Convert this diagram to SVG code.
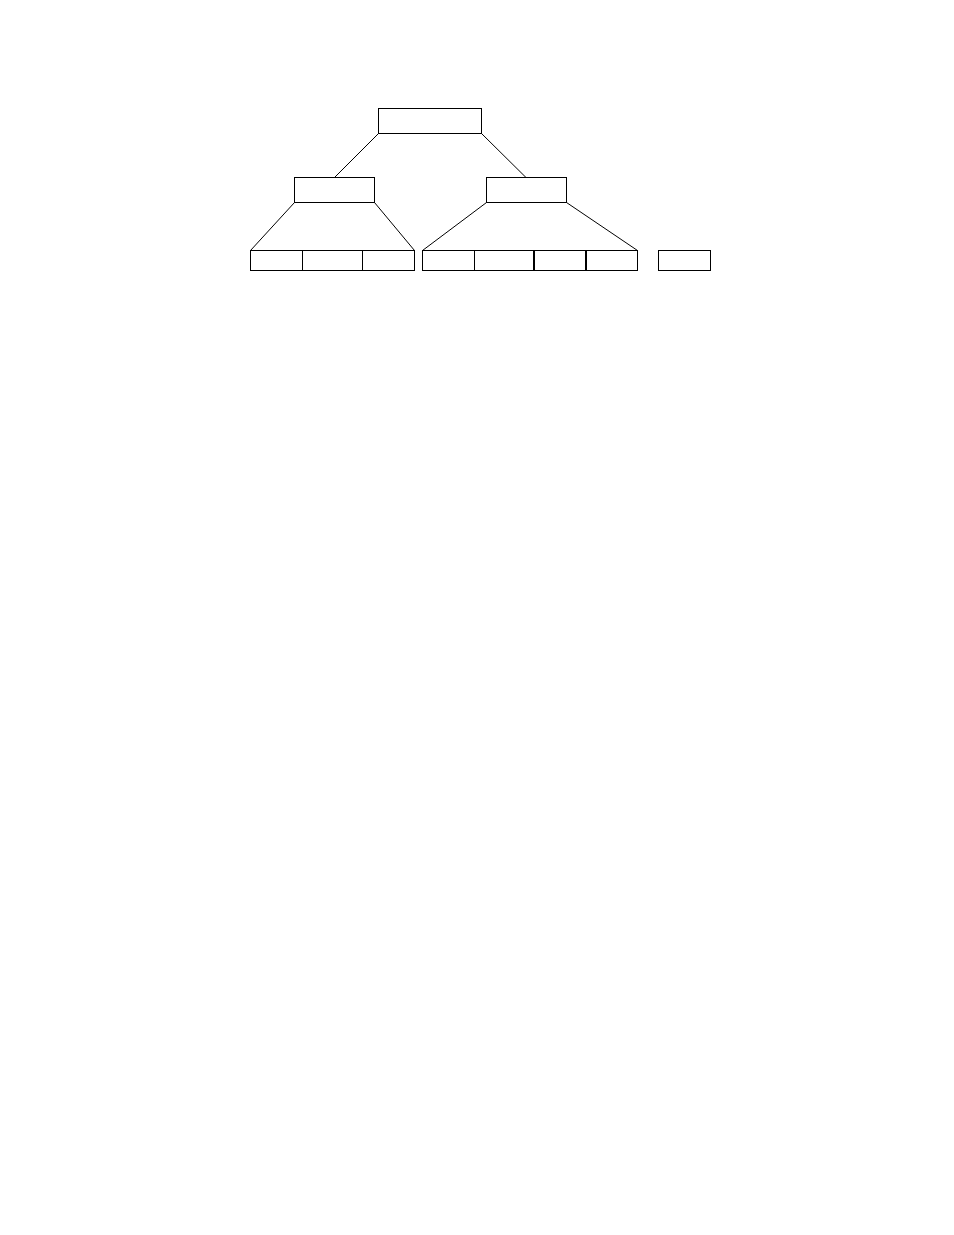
<svg xmlns="http://www.w3.org/2000/svg" width="954" height="1235" viewBox="0 0 954 1235">
<style>
.n{fill:#fff;stroke:#000;stroke-width:1}
.c line{stroke:#000;stroke-width:1}
.d{stroke:#000;stroke-width:1}
.t{stroke:#000;stroke-width:2}
</style>
<rect width="954" height="1235" fill="#fff"/>
<g class="c" id="connectors">
<line x1="378.5" y1="133.5" x2="334.5" y2="177.5"/>
<line x1="481.5" y1="133.5" x2="526" y2="177.5"/>
<line x1="294.5" y1="202.5" x2="250.5" y2="250.5"/>
<line x1="374.5" y1="202.5" x2="414.5" y2="250.5"/>
<line x1="486.5" y1="202.5" x2="422.5" y2="250.5"/>
<line x1="566.5" y1="202.5" x2="637.5" y2="250.5"/>
</g>
<g id="root"><rect class="n" x="378.5" y="108.5" width="103" height="25"/></g>
<g id="left-mid"><rect class="n" x="294.5" y="177.5" width="80" height="25"/></g>
<g id="right-mid"><rect class="n" x="486.5" y="177.5" width="80" height="25"/></g>
<g id="left-leaf">
<rect class="n" x="250.5" y="250.5" width="164" height="20"/>
<line class="d" x1="302.5" y1="250.5" x2="302.5" y2="270.5"/>
<line class="d" x1="362.5" y1="250.5" x2="362.5" y2="270.5"/>
</g>
<g id="right-leaf">
<rect class="n" x="422.5" y="250.5" width="215" height="20"/>
<line class="d" x1="474.5" y1="250.5" x2="474.5" y2="270.5"/>
<line class="t" x1="534" y1="250.5" x2="534" y2="270.5"/>
<line class="t" x1="586" y1="250.5" x2="586" y2="270.5"/>
</g>
<g id="extra-leaf"><rect class="n" x="658.5" y="250.5" width="52" height="20"/></g>
</svg>
